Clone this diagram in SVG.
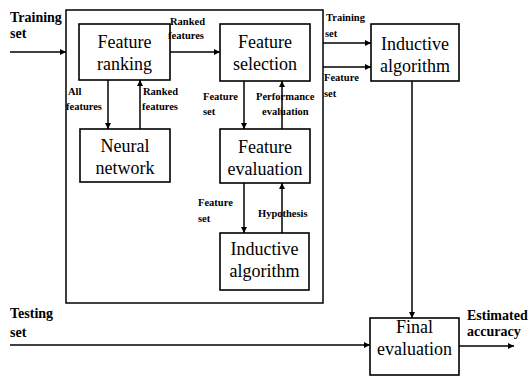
<svg xmlns="http://www.w3.org/2000/svg" width="528" height="376" viewBox="0 0 528 376">
<defs>
<marker id="ah" viewBox="0 0 10 10" refX="10" refY="5" markerWidth="7" markerHeight="6" markerUnits="userSpaceOnUse" orient="auto"><path d="M0,0 L10,5 L0,10 z" fill="#000"/></marker>
<style>
.box{fill:#fff;stroke:#000;stroke-width:1.6}
.frame{fill:none;stroke:#000;stroke-width:1.5}
.nt{font-family:"Liberation Serif","Times New Roman",serif;font-size:18px;text-anchor:middle;fill:#000}
.lb{font-family:"Liberation Serif","Times New Roman",serif;font-size:14px;font-weight:bold;fill:#000}
.sl{font-family:"Liberation Serif","Times New Roman",serif;font-size:10.5px;font-weight:bold;fill:#000}
.cn line{stroke:#000;stroke-width:1.5;marker-end:url(#ah)}
</style>
</defs>
<rect width="528" height="376" fill="#fff"/>
<rect id="frame" class="frame" x="66" y="10" width="257" height="293"/>
<g id="connectors" class="cn">
<line x1="10" y1="52" x2="66" y2="52"/>
<line x1="170" y1="52" x2="220" y2="52"/>
<line x1="108" y1="80" x2="108" y2="129"/>
<line x1="140" y1="129" x2="140" y2="80"/>
<line x1="244" y1="81" x2="244" y2="129"/>
<line x1="282" y1="129" x2="282" y2="81"/>
<line x1="244" y1="183" x2="244" y2="233"/>
<line x1="282" y1="233" x2="282" y2="183"/>
<line x1="323" y1="43" x2="371" y2="43"/>
<line x1="323" y1="67" x2="371" y2="67"/>
<line x1="412" y1="81" x2="412" y2="318"/>
<line x1="10" y1="345" x2="370" y2="345"/>
<line x1="459" y1="346" x2="514" y2="346"/>
</g>
<g id="feature-ranking"><rect class="box" x="79" y="24" width="91" height="56"/><text class="nt" x="124.5" y="48">Feature</text><text class="nt" x="124.5" y="70">ranking</text></g>
<g id="feature-selection"><rect class="box" x="220" y="24" width="90" height="57"/><text class="nt" x="265" y="48">Feature</text><text class="nt" x="265" y="70">selection</text></g>
<g id="neural-network"><rect class="box" x="80" y="129" width="90" height="53"/><text class="nt" x="125" y="152">Neural</text><text class="nt" x="125" y="174">network</text></g>
<g id="feature-evaluation"><rect class="box" x="220" y="129" width="90" height="54"/><text class="nt" x="265" y="153">Feature</text><text class="nt" x="265" y="175">evaluation</text></g>
<g id="inductive-inner"><rect class="box" x="220" y="233" width="89" height="57"/><text class="nt" x="264.5" y="255">Inductive</text><text class="nt" x="264.5" y="277">algorithm</text></g>
<g id="inductive-outer"><rect class="box" x="371" y="24" width="88" height="57"/><text class="nt" x="415" y="50">Inductive</text><text class="nt" x="415" y="72">algorithm</text></g>
<g id="final-evaluation"><rect class="box" x="370" y="318" width="89" height="57"/><text class="nt" x="414.5" y="333">Final</text><text class="nt" x="414.5" y="355">evaluation</text></g>
<g id="labels">
<text class="lb" x="10" y="22">Training</text><text class="lb" x="10" y="38">set</text>
<text class="sl" x="170" y="25">Ranked</text><text class="sl" x="168" y="39">features</text>
<text class="sl" x="68" y="95">All</text><text class="sl" x="66" y="110">features</text>
<text class="sl" x="143" y="95">Ranked</text><text class="sl" x="142" y="110">features</text>
<text class="sl" x="203" y="100">Feature</text><text class="sl" x="203" y="115">set</text>
<text class="sl" x="256" y="100">Performance</text><text class="sl" x="262" y="115">evaluation</text>
<text class="sl" x="198" y="206">Feature</text><text class="sl" x="198" y="222">set</text>
<text class="sl" x="258" y="217">Hypothesis</text>
<text class="sl" x="326" y="21">Training</text><text class="sl" x="325" y="37">set</text>
<text class="sl" x="324" y="81">Feature</text><text class="sl" x="324" y="97">set</text>
<text class="lb" x="10" y="318">Testing</text><text class="lb" x="10" y="337">set</text>
<text class="lb" x="467" y="320">Estimated</text><text class="lb" x="467" y="336">accuracy</text>
</g>
</svg>
